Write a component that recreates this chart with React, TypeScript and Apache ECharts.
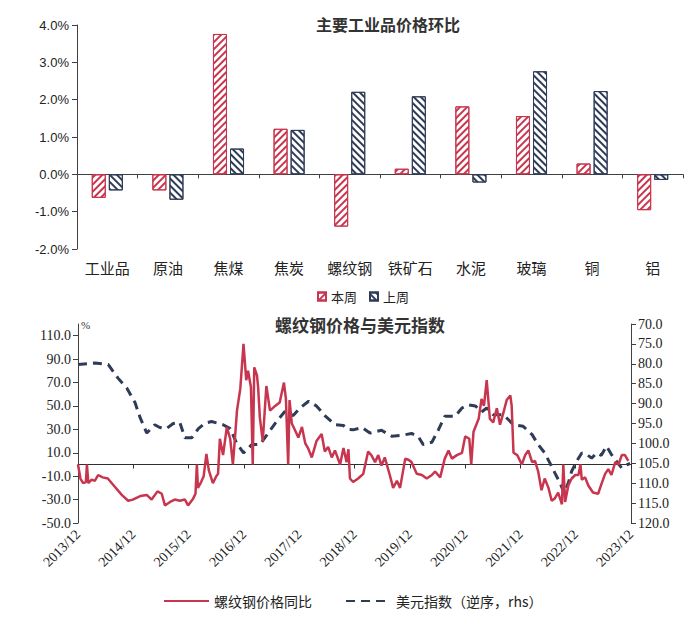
import React, { useEffect, useRef } from 'react';
import * as echarts from 'echarts';

// ---------- Top chart data ----------
const categories = ['工业品', '原油', '焦煤', '焦炭', '螺纹钢', '铁矿石', '水泥', '玻璃', '铜', '铝'];
const thisWeek = [-0.63, -0.43, 3.76, 1.22, -1.4, 0.15, 1.82, 1.56, 0.29, -0.96];
const lastWeek = [-0.43, -0.68, 0.69, 1.19, 2.21, 2.09, -0.22, 2.76, 2.23, -0.15];

// ---------- Bottom chart data ----------
const rebarDates = [
  '2013-12-01', '2013-12-17', '2014-01-04', '2014-01-22', '2014-01-29', '2014-02-07', '2014-03-01', '2014-03-22',
  '2014-04-13', '2014-05-13', '2014-06-16', '2014-08-01', '2014-09-16', '2014-10-28', '2014-11-28', '2015-01-16',
  '2015-02-28', '2015-04-01', '2015-05-10', '2015-06-07', '2015-06-28', '2015-08-01', '2015-09-01', '2015-10-04',
  '2015-11-07', '2015-11-28', '2016-01-01', '2016-01-16', '2016-01-25', '2016-02-01', '2016-02-22', '2016-03-10',
  '2016-03-28', '2016-04-13', '2016-05-10', '2016-06-01', '2016-06-13', '2016-06-25', '2016-07-16', '2016-08-10',
  '2016-09-01', '2016-09-19', '2016-10-04', '2016-10-16', '2016-11-07', '2016-11-28', '2016-12-16', '2016-12-28',
  '2017-01-16', '2017-01-28', '2017-02-07', '2017-02-25', '2017-03-04', '2017-03-16', '2017-04-04', '2017-04-28',
  '2017-05-22', '2017-06-25', '2017-07-25', '2017-08-22', '2017-09-04', '2017-09-19', '2017-09-28', '2017-10-13',
  '2017-11-04', '2017-11-25', '2017-12-19', '2018-01-10', '2018-01-28', '2018-02-22', '2018-03-25', '2018-04-28',
  '2018-05-19', '2018-06-10', '2018-07-04', '2018-07-25', '2018-08-28', '2018-09-19', '2018-10-10', '2018-10-22',
  '2018-11-01', '2018-11-22', '2018-12-25', '2019-01-28', '2019-03-01', '2019-03-22', '2019-04-16', '2019-05-07',
  '2019-05-28', '2019-06-19', '2019-07-22', '2019-08-13', '2019-09-07', '2019-09-28', '2019-11-01', '2019-11-22',
  '2019-12-13', '2020-01-16', '2020-02-19', '2020-03-22', '2020-04-25', '2020-05-16', '2020-06-19', '2020-07-19',
  '2020-08-13', '2020-09-04', '2020-10-07', '2020-11-10', '2020-12-01', '2020-12-28', '2021-01-10', '2021-01-25',
  '2021-02-28', '2021-03-19', '2021-04-04', '2021-04-22', '2021-05-13', '2021-06-04', '2021-06-28', '2021-07-19',
  '2021-08-10', '2021-09-01', '2021-09-25', '2021-10-04', '2021-10-16', '2021-11-10', '2021-12-10', '2022-01-01',
  '2022-01-22', '2022-02-16', '2022-03-07', '2022-03-28', '2022-04-19', '2022-05-10', '2022-06-04', '2022-06-25',
  '2022-07-16', '2022-08-07', '2022-09-01', '2022-09-10', '2022-09-22', '2022-10-13', '2022-11-04', '2022-11-28',
  '2022-12-19', '2023-01-01', '2023-01-10', '2023-02-01', '2023-02-22', '2023-03-25', '2023-04-28', '2023-05-19',
  '2023-06-13', '2023-07-04', '2023-07-25', '2023-08-19', '2023-09-10', '2023-10-01', '2023-10-22', '2023-11-13',
];
const rebarYoY = [
  0, -12, -16, -15, 0, -16, -13, -14,
  -9, -11, -12, -19, -26, -31, -30, -27,
  -26, -30, -23, -25, -35, -32, -30, -31,
  -30, -35, -29, -25, 0, -20, -15, -10,
  9, -5, -16, -10, -8, 22, 8, 32,
  22, 0, 25, 46, 65, 103, 72, 80,
  66, 0, 83, 76, 67, 40, 20, 67,
  46, 50, 53, 70, 56, 0, 55, 35,
  29, 23, 32, 18, 14, 6, 20, 26,
  11, 15, 6, 12, 0, 14, 2, 13,
  -12, -15, -12, -8, 11, 8, 2, 8,
  -1, 6, -9, -20, -14, -20, 5, 4,
  2, -8, -9, -12, -9, -6, -11, 5,
  12, 5, 8, 10, 24, 22, 0, 28,
  39, 56, 50, 72, 39, 36, 48, 34,
  44, 55, 59, 50, 10, 8, 0, 8,
  12, 2, 3, -6, -22, -12, -20, -31,
  -29, -24, -34, 0, -32, -18, -12, -9,
  -9, 0, -13, -11, -18, -24, -25, -17,
  -8, -4, -9, 2, 0, 8, 8, 3,
];

const dxyDates = [
  '2013-12-01', '2014-03-22', '2014-06-19', '2014-08-22', '2014-10-19', '2014-12-13', '2015-01-16', '2015-02-28',
  '2015-04-22', '2015-05-25', '2015-07-07', '2015-08-22', '2015-10-04', '2015-11-07', '2015-12-22', '2016-02-04',
  '2016-03-19', '2016-05-01', '2016-07-16', '2016-09-01', '2016-10-13', '2016-11-28', '2017-01-22', '2017-03-16',
  '2017-05-10', '2017-07-04', '2017-08-28', '2017-10-22', '2017-12-07', '2018-02-01', '2018-03-25', '2018-05-19',
  '2018-07-25', '2018-09-19', '2018-10-22', '2018-11-22', '2019-01-19', '2019-03-13', '2019-05-28', '2019-08-04',
  '2019-10-19', '2019-12-13', '2020-01-25', '2020-02-28', '2020-04-25', '2020-06-07', '2020-07-19', '2020-09-25',
  '2020-11-10', '2020-12-22', '2021-02-07', '2021-03-19', '2021-04-22', '2021-06-04', '2021-08-10', '2021-10-16',
  '2021-12-19', '2022-02-16', '2022-03-28', '2022-05-10', '2022-06-13', '2022-07-16', '2022-08-19', '2022-09-16',
  '2022-10-13', '2022-11-04', '2022-12-07', '2023-01-10', '2023-02-13', '2023-03-16', '2023-04-19', '2023-05-19',
  '2023-06-22', '2023-07-25', '2023-08-28', '2023-10-01', '2023-11-04', '2023-11-25',
];
const dxyValues = [
  80.2, 79.8, 80.2, 83.6, 86.1, 89.8, 93.6, 97.4,
  95.3, 96.0, 96.3, 95.0, 94.7, 98.6, 98.6, 96.3,
  94.9, 94.5, 95.3, 96.3, 99.9, 102.4, 100.3, 100.3,
  97.4, 94.5, 92.0, 93.0, 91.1, 89.4, 90.6, 93.0,
  95.3, 95.5, 96.5, 96.6, 96.0, 97.4, 96.7, 98.2,
  97.9, 97.5, 98.2, 100.3, 99.7, 96.6, 93.2, 93.2,
  91.1, 90.3, 90.6, 92.1, 91.1, 92.8, 92.8, 95.3,
  95.7, 97.8, 100.3, 102.4, 104.9, 107.4, 109.9, 112.5,
  109.9, 107.0, 104.5, 102.4, 102.8, 103.7, 102.4, 103.0,
  100.7, 102.8, 104.5, 106.2, 105.4, 105.0,
];

const xStart = '2013-12-01';
const xEnd = '2023-12-01';
const yearTicks = [
  '2013-12-01', '2014-12-01', '2015-12-01', '2016-12-01', '2017-12-01', '2018-12-01',
  '2019-12-01', '2020-12-01', '2021-12-01', '2022-12-01', '2023-12-01',
];
const leftTicks = [-50, -30, -10, 10, 30, 50, 70, 90, 110];

const RED = '#c8354e';
const NAVY = '#2f3c58';
const CJK = '"Noto Sans CJK SC", sans-serif';
const SANS = '"Liberation Sans", Arial, sans-serif';
const SERIF = '"Liberation Serif", "Times New Roman", serif';

const ts = (d: string) => Date.parse(d); // ISO date-only strings parse as UTC

export default function App() {
  const ref = useRef<HTMLDivElement>(null);

  useEffect(() => {
    if (!ref.current) return;
    const chart = echarts.init(ref.current, undefined, { renderer: 'svg' });

    const rebarData = rebarDates.map((d, i) => [ts(d), rebarYoY[i]]);
    const dxyData = dxyDates.map((d, i) => [ts(d), dxyValues[i]]);
    const yearTickTs = yearTicks.map(ts);

    const fmtYM = (v: number) => {
      const d = new Date(v);
      return d.getUTCFullYear() + '/' + String(d.getUTCMonth() + 1).padStart(2, '0');
    };

    const option: any = {
      animation: false,
      backgroundColor: '#ffffff',
      title: [
        {
          text: '主要工业品价格环比',
          left: 383,
          textAlign: 'center',
          top: 11,
          textStyle: { fontFamily: CJK, fontSize: 16, fontWeight: 'bold', color: '#333' },
        },
        {
          text: '螺纹钢价格与美元指数',
          left: 355,
          textAlign: 'center',
          top: 311,
          textStyle: { fontFamily: CJK, fontSize: 17, fontWeight: 'bold', color: '#333' },
        },
      ],
      legend: [
        {
          data: ['本周', '上周'],
          left: 312,
          top: 285,
          icon: 'rect',
          itemWidth: 8,
          itemHeight: 8,
          itemGap: 12,
          textStyle: { fontFamily: CJK, fontSize: 13, color: '#222' },
        },
        {
          data: ['螺纹钢价格同比', '美元指数（逆序，rhs）'],
          left: 158,
          top: 589,
          itemWidth: 45,
          itemHeight: 14,
          itemGap: 33,
          itemStyle: { opacity: 0 },
          textStyle: { fontFamily: CJK, fontSize: 14, color: '#222' },
        },
      ],
      grid: [
        { left: 77, right: 17, top: 25, height: 224 },
        { left: 78, right: 69, top: 324, height: 199 },
      ],
      xAxis: [
        {
          type: 'category',
          gridIndex: 0,
          data: categories,
          axisLine: { onZero: true, lineStyle: { color: '#404040', width: 1 } },
          axisTick: { show: true, length: 4, lineStyle: { color: '#404040' } },
          axisLabel: { show: false },
          splitLine: { show: false },
        },
        {
          type: 'category',
          gridIndex: 0,
          position: 'bottom',
          data: categories,
          axisLine: { show: false, onZero: false },
          axisTick: { show: false },
          axisLabel: { show: true, margin: 11, fontFamily: CJK, fontSize: 15, color: '#222' },
          splitLine: { show: false },
        },
        {
          type: 'value',
          gridIndex: 1,
          min: ts(xStart),
          max: ts(xEnd),
          axisLine: { onZero: true, lineStyle: { color: '#303030', width: 1 } },
          axisTick: { show: true, length: 4, customValues: yearTickTs, lineStyle: { color: '#303030' } },
          axisLabel: { show: false },
          splitLine: { show: false },
        },
        {
          type: 'value',
          gridIndex: 1,
          position: 'bottom',
          min: ts(xStart),
          max: ts(xEnd),
          axisLine: { show: false, onZero: false },
          axisTick: { show: false },
          axisLabel: {
            show: true,
            customValues: yearTickTs,
            formatter: fmtYM,
            rotate: 45,
            margin: 9,
            fontFamily: SERIF,
            fontSize: 14,
            color: '#222',
            hideOverlap: false,
          },
          splitLine: { show: false },
        },
      ],
      yAxis: [
        {
          type: 'value',
          gridIndex: 0,
          min: -2,
          max: 4,
          interval: 1,
          axisLine: { show: true, lineStyle: { color: '#404040' } },
          axisTick: { show: true, length: 5, lineStyle: { color: '#404040' } },
          axisLabel: {
            formatter: (v: number) => v.toFixed(1) + '%',
            fontFamily: SANS,
            fontSize: 13,
            color: '#222',
            margin: 8,
          },
          splitLine: { show: false },
        },
        {
          type: 'value',
          gridIndex: 1,
          min: -50,
          max: 120,
          axisLine: { show: true, lineStyle: { color: '#404040' } },
          axisTick: { show: true, length: 5, customValues: leftTicks, lineStyle: { color: '#404040' } },
          axisLabel: {
            customValues: leftTicks,
            formatter: (v: number) => v.toFixed(1),
            fontFamily: SERIF,
            fontSize: 14,
            color: '#222',
            margin: 7,
          },
          splitLine: { show: false },
        },
        {
          type: 'value',
          gridIndex: 1,
          position: 'right',
          inverse: true,
          min: 70,
          max: 120,
          interval: 5,
          axisLine: { show: true, lineStyle: { color: '#404040' } },
          axisTick: { show: true, length: 5, lineStyle: { color: '#404040' } },
          axisLabel: {
            formatter: (v: number) => v.toFixed(1),
            fontFamily: SERIF,
            fontSize: 14,
            color: '#222',
            margin: 7,
          },
          splitLine: { show: false },
        },
      ],
      series: [
        {
          name: '本周',
          type: 'bar',
          xAxisIndex: 0,
          yAxisIndex: 0,
          data: thisWeek,
          barWidth: 14,
          barGap: '22%',
          itemStyle: {
            color: '#ffffff',
            borderColor: RED,
            borderWidth: 1,
            decal: {
              symbol: 'rect',
              symbolSize: 1,
              color: RED,
              backgroundColor: 'rgba(0,0,0,0)',
              dashArrayX: [1, 0],
              dashArrayY: [2, 3],
              rotation: -Math.PI / 4,
            },
          },
        },
        {
          name: '上周',
          type: 'bar',
          xAxisIndex: 0,
          yAxisIndex: 0,
          data: lastWeek,
          barWidth: 14,
          itemStyle: {
            color: '#ffffff',
            borderColor: NAVY,
            borderWidth: 1,
            decal: {
              symbol: 'rect',
              symbolSize: 1,
              color: NAVY,
              backgroundColor: 'rgba(0,0,0,0)',
              dashArrayX: [1, 0],
              dashArrayY: [2, 3],
              rotation: Math.PI / 4,
            },
          },
        },
        {
          name: '螺纹钢价格同比',
          type: 'line',
          xAxisIndex: 2,
          yAxisIndex: 1,
          data: rebarData,
          showSymbol: false,
          symbol: 'none',
          z: 3,
          lineStyle: { color: RED, width: 2.5 },
          itemStyle: { color: RED },
        },
        {
          name: '美元指数（逆序，rhs）',
          type: 'line',
          xAxisIndex: 2,
          yAxisIndex: 2,
          data: dxyData,
          showSymbol: false,
          symbol: 'none',
          z: 2,
          lineStyle: { color: NAVY, width: 3, type: [9, 6] },
          itemStyle: { color: NAVY },
        },
      ],
      graphic: [
        {
          type: 'text',
          left: 81,
          top: 319,
          style: { text: '%', fontFamily: SERIF, fontSize: 11, fill: '#333' },
        },
      ],
    };

    chart.setOption(option);
    return () => chart.dispose();
  }, []);

  return (
    <div
      ref={ref}
      style={{ position: 'fixed', left: 0, top: 0, width: 700, height: 626, background: '#fff' }}
    />
  );
}
